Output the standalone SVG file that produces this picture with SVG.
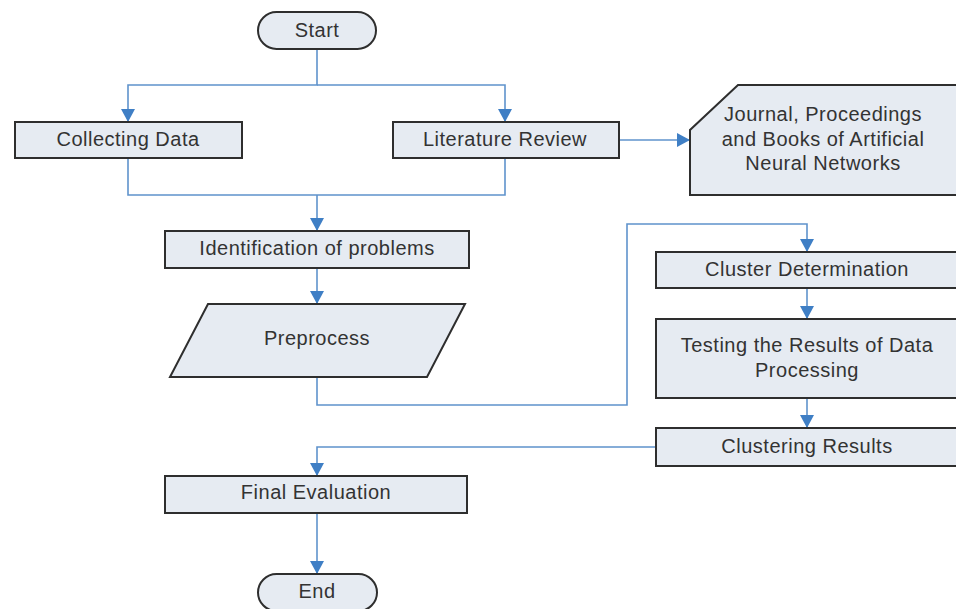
<svg xmlns="http://www.w3.org/2000/svg" width="956" height="609" viewBox="0 0 956 609">
<style>
.box{fill:#e6ebf2;stroke:#2e2e2e;stroke-width:2}
.lbl{font-family:"Liberation Sans",Arial,sans-serif;font-size:20px;letter-spacing:0.5px;fill:#333;text-anchor:middle}
.conn{fill:none;stroke:#5f93cc;stroke-width:1.6}
</style>
<defs>
<marker id="ah" markerUnits="userSpaceOnUse" markerWidth="14" markerHeight="14" refX="13" refY="7" orient="auto">
<path d="M0,0 L13,7 L0,14 z" fill="#3f7fc5"/>
</marker>
</defs>
<rect width="956" height="609" fill="#ffffff"/>
<g id="connectors">
<path class="conn" d="M317,49 V85 H128 V122" marker-end="url(#ah)"/>
<path class="conn" d="M317,85 H505 V122" marker-end="url(#ah)"/>
<path class="conn" d="M619,140 H690" marker-end="url(#ah)"/>
<path class="conn" d="M128,158 V195 H505 V158"/>
<path class="conn" d="M317,195 V231" marker-end="url(#ah)"/>
<path class="conn" d="M317,268 V304" marker-end="url(#ah)"/>
<path class="conn" d="M317,377 V405 H627 V224 H807 V252" marker-end="url(#ah)"/>
<path class="conn" d="M807,288 V319" marker-end="url(#ah)"/>
<path class="conn" d="M807,398 V428" marker-end="url(#ah)"/>
<path class="conn" d="M656,447 H317 V476" marker-end="url(#ah)"/>
<path class="conn" d="M317,513 V574" marker-end="url(#ah)"/>
</g>
<g id="start">
<rect class="box" x="258" y="12" width="118" height="37" rx="18.5"/>
<text class="lbl" x="317" y="37">Start</text>
</g>
<g id="collecting">
<rect class="box" x="15" y="122" width="227" height="36"/>
<text class="lbl" x="128" y="146">Collecting Data</text>
</g>
<g id="literature">
<rect class="box" x="393" y="122" width="226" height="36"/>
<text class="lbl" x="505" y="146">Literature Review</text>
</g>
<g id="journal">
<path class="box" d="M738,85 H960 V195 H690 V130 Z"/>
<text class="lbl" x="823" y="121">Journal, Proceedings</text>
<text class="lbl" x="823" y="146">and Books of Artificial</text>
<text class="lbl" x="823" y="170">Neural Networks</text>
</g>
<g id="identification">
<rect class="box" x="165" y="231" width="304" height="37"/>
<text class="lbl" x="317" y="255">Identification of problems</text>
</g>
<g id="preprocess">
<path class="box" d="M208,304 H465 L427,377 H170 Z"/>
<text class="lbl" x="317" y="345">Preprocess</text>
</g>
<g id="cluster">
<rect class="box" x="656" y="252" width="304" height="36"/>
<text class="lbl" x="807" y="276">Cluster Determination</text>
</g>
<g id="testing">
<rect class="box" x="656" y="319" width="304" height="79"/>
<text class="lbl" x="807" y="352">Testing the Results of Data</text>
<text class="lbl" x="807" y="377">Processing</text>
</g>
<g id="clustering">
<rect class="box" x="656" y="428" width="304" height="38"/>
<text class="lbl" x="807" y="453">Clustering Results</text>
</g>
<g id="final">
<rect class="box" x="165" y="476" width="302" height="37"/>
<text class="lbl" x="316" y="499">Final Evaluation</text>
</g>
<g id="end">
<rect class="box" x="258" y="574" width="119" height="37" rx="18.5"/>
<text class="lbl" x="317" y="598">End</text>
</g>
</svg>
